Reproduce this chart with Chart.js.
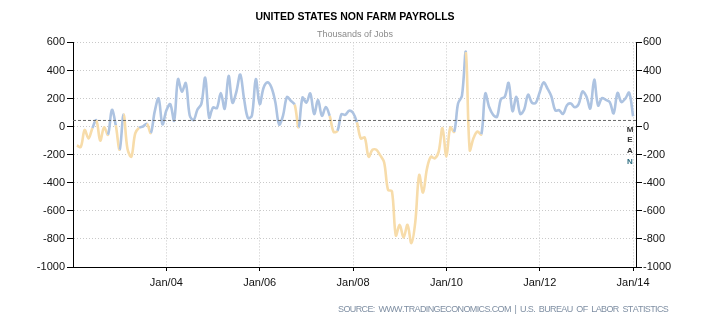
<!DOCTYPE html>
<html>
<head>
<meta charset="utf-8">
<title>United States Non Farm Payrolls</title>
<script src="https://cdn.jsdelivr.net/npm/chart.js@4/dist/chart.umd.min.js"></script>
<style>
    body { margin: 0; background: #fff; }
    #payrollChart { display: block; }
</style>
</head>
<body>
<canvas id="payrollChart" width="710" height="325"></canvas>
<script>
// monthly change, thousands of jobs, Jan 2002 .. Dec 2013
var startYear = 2002;
var payrolls = [
    -134, -145, -24, -84, -9, 45, -99, -5, -58, 120, 9, -164,
    87, -158, -214, -48, -8, 1, 20, -45, 107, 201, 16, 115,
    160, 43, 338, 250, 310, 81, 46, 122, 162, 348, 64, 136,
    132, 240, 127, 361, 170, 248, 371, 194, 60, 80, 338, 161,
    277, 315, 280, 177, 15, 79, 210, 184, 156, -5, 207, 171,
    236, 90, 189, 77, 139, 76, -37, -30, 88, 84, 113, 98,
    30, -84, -78, -214, -165, -165, -205, -255, -451, -460, -775, -700,
    -790, -700, -830, -680, -345, -470, -300, -215, -226, -180, -10, -214,
    -6, -37, 165, 220, 530, -167, -80, -35, -55, 236, 140, 85,
    70, 195, 212, 311, 110, 212, 90, 122, 228, 170, 170, 245,
    315, 271, 215, 115, 117, 90, 153, 165, 138, 160, 250, 215,
    130, 335, 150, 203, 190, 175, 95, 240, 175, 200, 241, 74
];
var tickYears = [2004, 2006, 2008, 2010, 2012, 2014];
var tickLabels = ['Jan/04', 'Jan/06', 'Jan/08', 'Jan/10', 'Jan/12', 'Jan/14'];

var blue = '#adc3e1';
var orange = '#f7dcaa';
var labelFont = { family: "'Liberation Sans', Arial, sans-serif", size: 11 };
var gridColor = '#c9c9c9';

// months counted from Jan 1 2002, values sit at month end
var points = payrolls.map(function (v, i) { return { x: i + 1, y: v }; });
var tickMonths = tickYears.map(function (y) { return (y - startYear) * 12; });
var xMax = 144.75;

var mean = payrolls.reduce(function (a, b) { return a + b; }, 0) / payrolls.length;

function plainNumber(value) {
    return String(value);
}

var extrasPlugin = {
    id: 'extras',
    afterDraw: function (chart) {
        var ctx = chart.ctx;
        var area = chart.chartArea;
        var yMean = chart.scales.y.getPixelForValue(mean);
        ctx.save();
        // vertical MEAN tag
        ctx.font = 'bold 8px "Liberation Sans", sans-serif';
        ctx.textAlign = 'center';
        ctx.textBaseline = 'middle';
        var letters = ['M', 'E', 'A', 'N'];
        for (var i = 0; i < letters.length; i++) {
            ctx.fillStyle = i === 3 ? '#2d6d80' : '#333';
            ctx.fillText(letters[i], area.right - 6, yMean + 9 + i * 10.7);
        }
        // source line
        var src = 'SOURCE:  WWW.TRADINGECONOMICS.COM  |  U.S.  BUREAU  OF  LABOR  STATISTICS';
        ctx.font = '9px "Liberation Sans", Arial, sans-serif';
        ctx.fillStyle = '#7f8fa3';
        ctx.textAlign = 'left';
        var w = ctx.measureText(src).width;
        var target = 329;
        var spacing = (target - w) / (src.length - 1);
        var x = 338;
        for (var j = 0; j < src.length; j++) {
            ctx.fillText(src[j], x, 310);
            x += ctx.measureText(src[j]).width + spacing;
        }
        ctx.restore();
    }
};

var chart = new Chart(document.getElementById('payrollChart'), {
    type: 'line',
    data: {
        datasets: [{
            label: 'Non Farm Payrolls',
            data: points,
            borderWidth: 2.6,
            borderColor: blue,
            pointRadius: 0,
            tension: 0.35,
            order: 1,
            segment: {
                borderColor: function (ctx) {
                    return ctx.p1.parsed.y < 0 ? orange : blue;
                }
            }
        }, {
            label: 'Mean',
            data: [{ x: 0, y: mean }, { x: xMax, y: mean }],
            borderColor: '#666',
            borderWidth: 1,
            borderDash: [3, 2],
            pointRadius: 0,
            tension: 0,
            order: 0
        }]
    },
    options: {
        responsive: false,
        animation: false,
        devicePixelRatio: 1,
        layout: { padding: 0 },
        plugins: {
            legend: { display: false },
            tooltip: { enabled: false },
            title: {
                display: true,
                text: 'UNITED STATES NON FARM PAYROLLS',
                color: '#000',
                font: { family: "'Liberation Sans', Arial, sans-serif", size: 10.5, weight: 'bold' },
                padding: { top: 11, bottom: 6 }
            },
            subtitle: {
                display: true,
                text: 'Thousands of Jobs',
                color: '#8a8a8a',
                font: { family: "'Liberation Sans', Arial, sans-serif", size: 9 },
                padding: { top: 0, bottom: 2 }
            }
        },
        scales: {
            x: {
                type: 'linear',
                min: 0,
                max: xMax,
                afterBuildTicks: function (axis) {
                    axis.ticks = tickMonths.map(function (m) { return { value: m }; });
                },
                afterFit: function (axis) { axis.height = 58; },
                ticks: {
                    autoSkip: false,
                    maxRotation: 0,
                    padding: 5,
                    color: '#111',
                    font: labelFont,
                    callback: function (value) {
                        return tickLabels[tickMonths.indexOf(value)];
                    }
                },
                grid: { color: gridColor, tickColor: '#000', tickLength: 4 },
                border: { display: true, color: '#000', width: 1, dash: [1, 2] }
            },
            y: {
                position: 'left',
                min: -1000,
                max: 600,
                afterFit: function (axis) { axis.width = 73; },
                ticks: { stepSize: 200, padding: 2, color: '#111', font: labelFont, callback: plainNumber },
                grid: { color: gridColor, tickColor: '#000', tickLength: 6 },
                border: { display: true, color: '#000', width: 1, dash: [1, 2] }
            },
            y2: {
                position: 'right',
                min: -1000,
                max: 600,
                afterFit: function (axis) { axis.width = 74; },
                ticks: { stepSize: 200, padding: 1, color: '#111', font: labelFont, callback: plainNumber },
                grid: { drawOnChartArea: false, tickColor: '#000', tickLength: 6 },
                border: { display: true, color: '#000', width: 1 }
            }
        }
    },
    plugins: [extrasPlugin]
});
</script>
</body>
</html>
